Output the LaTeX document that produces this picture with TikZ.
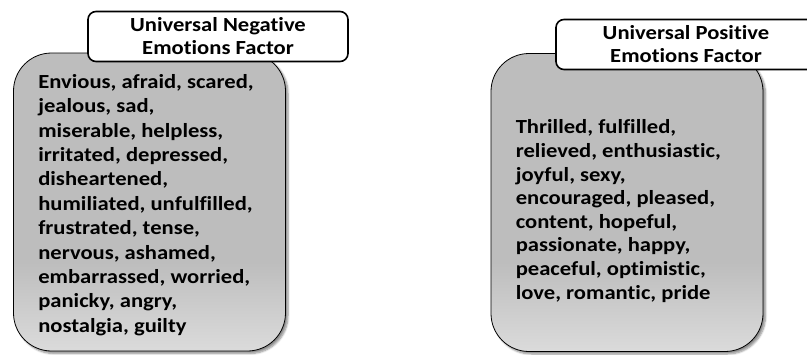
\documentclass[tikz,border=0pt]{standalone}
\usepackage{fontspec}
\setmainfont{Carlito}[Ligatures=NoCommon, FakeStretch=1.13]
\usetikzlibrary{shadows.blur}

\definecolor{boxtop}{RGB}{189,189,189}
\definecolor{boxlow}{RGB}{219,219,219}
% grey fill that stays flat in the upper part and lightens near the bottom
\pgfdeclareverticalshading{emofill}{100bp}{color(0bp)=(boxlow); color(25bp)=(boxlow); color(40bp)=(boxtop); color(75bp)=(boxtop); color(100bp)=(boxtop)}

\tikzset{
  listbox/.style={draw=black, line width=0.8pt, rounded corners=38pt,
    shading=emofill, minimum width=272pt, minimum height=298pt, inner sep=0pt,
    blur shadow={shadow xshift=2.5pt, shadow yshift=-2.5pt, shadow blur steps=6, shadow opacity=45}},
  listtext/.style={anchor=west, inner sep=0pt, align=left,
    font=\bfseries\fontsize{20}{#1}\selectfont},
  titlebox/.style={draw=black, line width=1.6pt, fill=white, rounded corners=8pt,
    minimum width=260pt, minimum height=50pt, inner sep=0pt, align=center,
    font=\bfseries\fontsize{20}{23}\selectfont}
}

\begin{document}
\begin{tikzpicture}[x=1pt, y=-1pt]
  \useasboundingbox (0,0) rectangle (807,354);

  % negative emotions
  \node[listbox] (neg) at (149.5,202) {};
  \node[listtext=24.4] (negtext) at ([xshift=25pt, yshift=-3pt]neg.west)
    {Envious, afraid, scared,\\ jealous, sad,\\ miserable, helpless,\\ irritated, depressed,\\ disheartened,\\ humiliated, unfulfilled,\\ frustrated, tense,\\ nervous, ashamed,\\ embarrassed, worried,\\ panicky, angry,\\ nostalgia, guilty};
  \node[titlebox] (negtitle) at (218,36.5) {Universal Negative\\ Emotions Factor};

  % positive emotions
  \node[listbox] (pos) at (627,202.5) {};
  \node[listtext=23.6] (postext) at ([xshift=25pt, yshift=-8.5pt]pos.west)
    {Thrilled, fulfilled,\\ relieved, enthusiastic,\\ joyful, sexy,\\ encouraged, pleased,\\ content, hopeful,\\ passionate, happy,\\ peaceful, optimistic,\\ love, romantic, pride};
  \node[titlebox] (postitle) at (686,44.5) {Universal Positive\\ Emotions Factor};
\end{tikzpicture}
\end{document}
